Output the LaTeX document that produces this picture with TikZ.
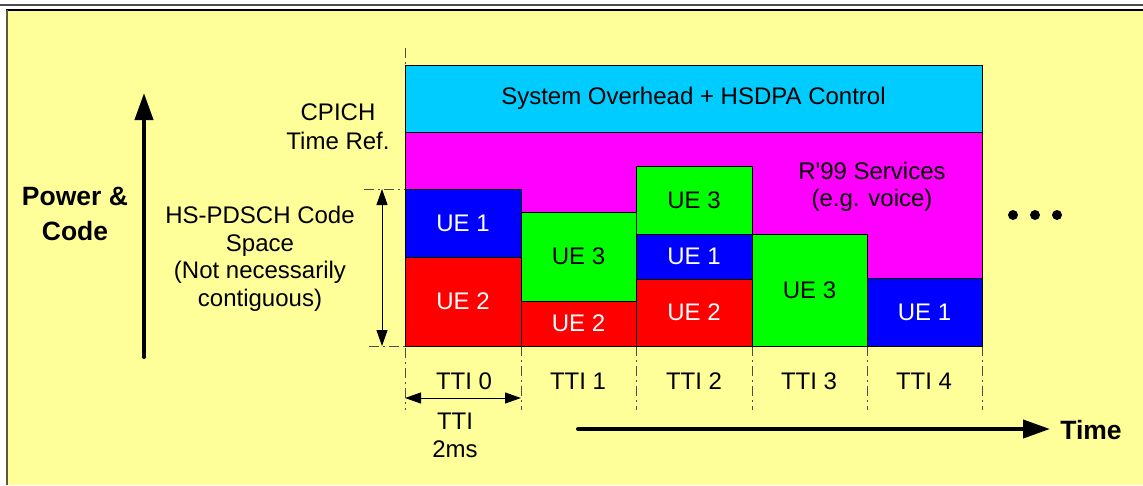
\documentclass[tikz,border=0pt]{standalone}
\usepackage{fontspec}
\setmainfont{Liberation Sans}
\usetikzlibrary{arrows.meta}
\definecolor{bgyellow}{RGB}{255,255,153}
\definecolor{ovcyan}{RGB}{0,204,255}
\definecolor{rmag}{RGB}{255,0,255}
\definecolor{ueblue}{RGB}{0,0,255}
\definecolor{uered}{RGB}{255,0,0}
\definecolor{uegreen}{RGB}{0,255,0}
\definecolor{frameolive}{RGB}{90,90,60}
\begin{document}
\begin{tikzpicture}[x=1pt,y=-1pt,
  txt/.style={font=\fontsize{24}{27.5}\selectfont, align=center, inner sep=0pt},
  boldtxt/.style={font=\fontsize{26.5}{35}\bfseries\selectfont, align=center, inner sep=0pt},
  blk/.style={draw=black, line width=0.8pt, anchor=north west, inner sep=0pt, outer sep=0pt,
    font=\fontsize{24}{27.5}\selectfont},
  whitetxt/.style={text=white},
  dashdot/.style={draw=black!70, line width=1pt, dash pattern=on 10pt off 4pt on 2pt off 4pt},
  bigarrow/.style={line width=4pt, line cap=round, -{Triangle[length=27pt,width=18pt]}},
  dimarrow/.style={line width=1pt, {Triangle[length=16pt,width=11pt]}-{Triangle[length=16pt,width=11pt]}}
]
\useasboundingbox (0,0) rectangle (1143,485);
% frame
\fill[white] (0,0) rectangle (1143,485);
\draw[line width=2pt, black!70] (0,5) -- (1143,5);
\fill[bgyellow] (6,10) rectangle (1143,485);
\draw[black, line width=1.5pt] (6,10) -- (1143,10);
\draw[frameolive, line width=2pt] (7,10) -- (7,485);

% dash-dot reference lines
\coordinate (v0t) at (405,48);
\coordinate (v0b) at (405,410);
\draw[dashdot] (v0t) -- (v0b);
\foreach \x/\n in {521/1,636/2,752/3,867/4,982/5}{
  \coordinate (vt\n) at (\x,346);
  \coordinate (vb\n) at (\x,410);
  \draw[dashdot] (vt\n) -- (vb\n);
}
\coordinate (htl) at (364,189); \coordinate (htr) at (405,189);
\coordinate (hbl) at (369,346); \coordinate (hbr) at (405,346);
\draw[dashdot] (htl) -- (htr);
\draw[dashdot] (hbl) -- (hbr);

% overhead and R99 areas
\node[blk, fill=ovcyan, minimum width=577pt, minimum height=67pt] (ovh) at (405,65) {System Overhead + HSDPA Control};
\node[blk, fill=rmag, minimum width=577pt, minimum height=214pt] (r99) at (405,132) {};
\node[txt] (r99t) at (872,187) {R\textquotesingle 99 Services\\(e.g. voice)};

% UE blocks
\node[blk, fill=ueblue, whitetxt, minimum width=116pt, minimum height=68pt] (t0a) at (405,189) {UE 1};
\node[blk, fill=uered, whitetxt, minimum width=116pt, minimum height=89pt] (t0b) at (405,257) {UE 2};
\node[blk, fill=uegreen, minimum width=115pt, minimum height=89pt] (t1a) at (521,212) {UE 3};
\node[blk, fill=uered, whitetxt, minimum width=115pt, minimum height=45pt] (t1b) at (521,301) {UE 2};
\node[blk, fill=uegreen, minimum width=116pt, minimum height=68pt] (t2a) at (636,166) {UE 3};
\node[blk, fill=ueblue, whitetxt, minimum width=116pt, minimum height=45pt] (t2b) at (636,234) {UE 1};
\node[blk, fill=uered, whitetxt, minimum width=116pt, minimum height=67pt] (t2c) at (636,279) {UE 2};
\node[blk, fill=uegreen, minimum width=115pt, minimum height=112pt] (t3a) at (752,234) {UE 3};
\node[blk, fill=ueblue, whitetxt, minimum width=115pt, minimum height=68pt] (t4a) at (867,278) {UE 1};

% left labels
\node[boldtxt] (pc) at (75,213.5) {Power \&\\Code};
\node[txt, font=\fontsize{24}{29}\selectfont] (cpich) at (338,126.5) {CPICH\\Time Ref.};
\node[txt] (hs) at (260,259) {HS-PDSCH Code\\Space\\(Not necessarily\\contiguous)};

% vertical power arrow
\coordinate (pb) at (144,357);
\coordinate (pt) at (144,93);
\draw[bigarrow] (pb) -- (pt);

% dimension arrow
\coordinate (dt) at (382,189);
\coordinate (db) at (382,346);
\draw[dimarrow] (dt) -- (db);

% TTI labels
\node[txt] (l0) at (464,381) {TTI 0};
\node[txt] (l1) at (578,381) {TTI 1};
\node[txt] (l2) at (694,381) {TTI 2};
\node[txt] (l3) at (809,381) {TTI 3};
\node[txt] (l4) at (924,381) {TTI 4};

% TTI duration arrow
\coordinate (tl) at (405,398);
\coordinate (tr) at (521,398);
\draw[dimarrow] (tl) -- (tr);
\node[txt, font=\fontsize{24}{28}\selectfont] (ttid) at (455,435) {TTI\\2ms};

% time arrow
\coordinate (ts) at (578,429);
\coordinate (te) at (1050,429);
\draw[bigarrow] (ts) -- (te);
\node[boldtxt] (time) at (1091,430) {Time};

% ellipsis dots
\fill (1013,215) circle (5pt);
\fill (1035,215) circle (5pt);
\fill (1057,215) circle (5pt);
\end{tikzpicture}
\end{document}
